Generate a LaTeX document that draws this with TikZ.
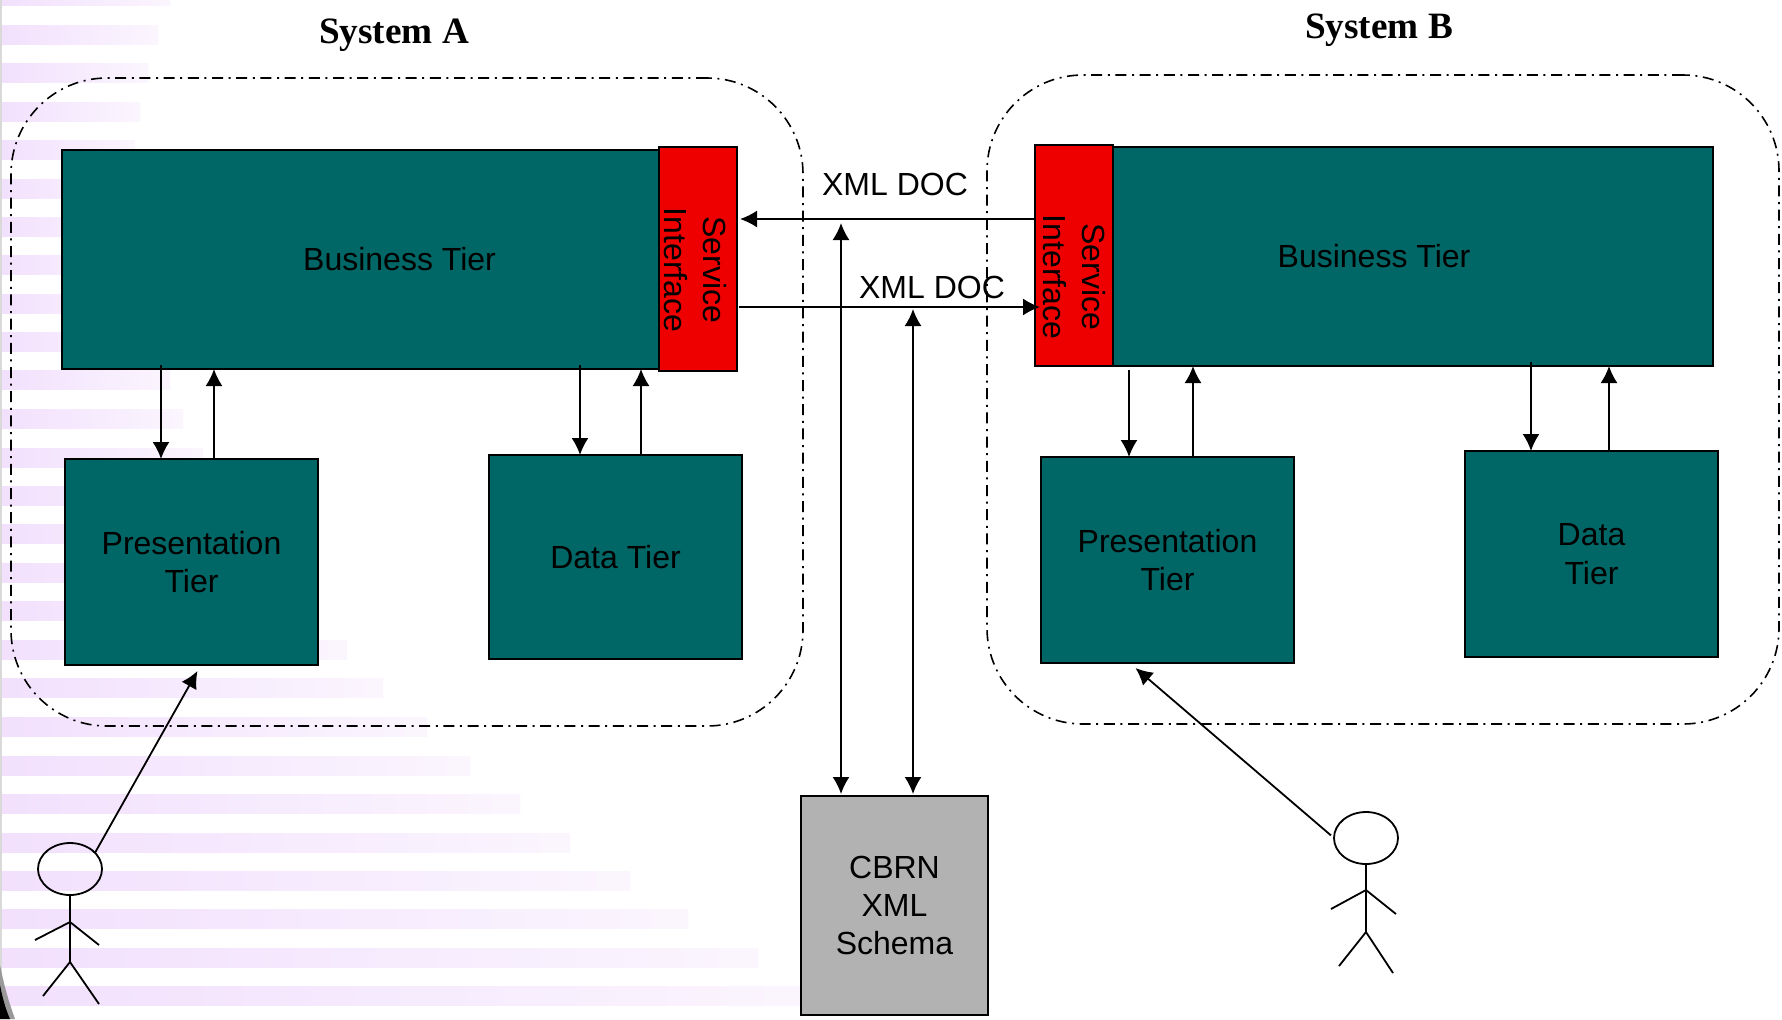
\documentclass[tikz,border=0pt]{standalone}
\usepackage{fontspec}
\setmainfont{Liberation Sans}
\newfontfamily\titlefont{Liberation Serif}
\usetikzlibrary{arrows.meta,shapes.geometric}
\definecolor{tierteal}{HTML}{006666}
\definecolor{sired}{HTML}{EE0000}
\definecolor{schemagray}{HTML}{B2B2B2}
\definecolor{stripepink}{HTML}{F2E0FD}
\tikzset{
  stripe/.style = {left color=stripepink, right color=stripepink!30},
  system/.style = {draw, line width=.8pt, rounded corners=48pt, inner sep=0,
    dash pattern=on 5.5pt off 2.8pt on 1pt off 2.8pt},
  tier/.style = {draw, line width=1pt, fill=tierteal, inner sep=0, outer sep=0,
    align=center, font=\fontsize{16}{19.2}\selectfont},
  sibox/.style = {draw, line width=1pt, fill=sired, inner sep=0, outer sep=0},
  silabel/.style = {rotate=-90, inner sep=0, align=center, font=\fontsize{16}{19.5}\selectfont},
  schema/.style = {tier, fill=schemagray},
  doclabel/.style = {inner sep=0, font=\fontsize{16}{19}\selectfont},
  syslabel/.style = {inner sep=0, font=\titlefont\bfseries\fontsize{18.6}{22}\selectfont},
  head/.style = {draw, ellipse, line width=.9pt, minimum width=32pt, minimum height=26pt, inner sep=0, outer sep=0},
  stick/.style = {line width=.9pt},
  link/.style = {line width=.9pt, -{Latex[length=8.5pt,width=8.5pt]}},
  twolink/.style = {line width=.9pt, {Latex[length=8.5pt,width=8.5pt]}-{Latex[length=8.5pt,width=8.5pt]}}
}
\begin{document}
\begin{tikzpicture}[x=.5pt,y=-.5pt]
    \useasboundingbox (0,0) rectangle (1782,1019);
    \fill[white] (0,0) rectangle (1782,1019);
    \begin{scope}
      \shade[stripe] (0,0) rectangle (170,5);
      \shade[stripe] (0,25) rectangle (158,44);
      \shade[stripe] (0,63) rectangle (148,82);
      \shade[stripe] (0,102) rectangle (140,121);
      \shade[stripe] (0,140) rectangle (135,159);
      \shade[stripe] (0,179) rectangle (130,198);
      \shade[stripe] (0,217) rectangle (128,236);
      \shade[stripe] (0,255) rectangle (130,274);
      \shade[stripe] (0,294) rectangle (135,313);
      \shade[stripe] (0,332) rectangle (150,351);
      \shade[stripe] (0,370) rectangle (170,389);
      \shade[stripe] (0,409) rectangle (183,428);
      \shade[stripe] (0,448) rectangle (203,467);
      \shade[stripe] (0,486) rectangle (225,505);
      \shade[stripe] (0,524) rectangle (250,543);
      \shade[stripe] (0,563) rectangle (275,582);
      \shade[stripe] (0,601) rectangle (310,620);
      \shade[stripe] (0,640) rectangle (347,659);
      \shade[stripe] (0,678) rectangle (383,697);
      \shade[stripe] (0,717) rectangle (427,736);
      \shade[stripe] (0,756) rectangle (470,775);
      \shade[stripe] (0,794) rectangle (520,813);
      \shade[stripe] (0,833) rectangle (570,852);
      \shade[stripe] (0,871) rectangle (630,890);
      \shade[stripe] (0,909) rectangle (688,928);
      \shade[stripe] (0,948) rectangle (758,967);
      \shade[stripe] (0,986) rectangle (808,1005);
      \fill[black!15] (0,0) rectangle (2,1019);
      \fill[black!40] (0,965) .. controls (5,990) and (10,1005) .. (15,1019) -- (0,1019) -- cycle;
      \fill[black] (0,985) .. controls (3,1000) and (6,1010) .. (10,1019) -- (0,1019) -- cycle;
    \end{scope}

    \node[system, minimum width=396pt, minimum height=324pt] (sysA) at (407,402) {};
    \node[system, minimum width=396pt, minimum height=324.5pt] (sysB) at (1383,399.5) {};
    \node[syslabel] (titleA) at (394,35) {System A};
    \node[syslabel] (titleB) at (1379,30) {System B};

    \node[tier, minimum width=337.5pt, minimum height=109.5pt] (bizA) at (399.5,259.5) {Business Tier};
    \node[sibox, minimum width=39pt, minimum height=112pt] (siA) at (698,259) {};
    \node[silabel] (siAlabel) at (695,270) {Service\\Interface};
    \node[tier, minimum width=126.5pt, minimum height=103pt] (presA) at (191.5,562) {Presentation\\Tier};
    \node[tier, minimum width=126.5pt, minimum height=102pt] (dataA) at (615.5,557) {Data Tier};

    \node[tier, minimum width=339pt, minimum height=109.5pt] (bizB) at (1374,256.5) {Business Tier};
    \node[sibox, minimum width=39pt, minimum height=110.5pt] (siB) at (1074,255.5) {};
    \node[silabel] (siBlabel) at (1074,277) {Service\\Interface};
    \node[tier, minimum width=126.5pt, minimum height=103pt] (presB) at (1167.5,560) {Presentation\\Tier};
    \node[tier, minimum width=126.5pt, minimum height=103pt] (dataB) at (1591.5,554) {Data\\Tier};

    \node[schema, minimum width=93.5pt, minimum height=109.5pt] (cbrn) at (894.5,905.5) {CBRN\\XML\\Schema};

    \draw[link, shorten >=1.5pt] ([yshift=18.25pt]siB.west) -- ([yshift=18.25pt]siB.west -| siA.east);
    \draw[link, shorten <=1pt, shorten >=-2.5pt] ([yshift=-24pt]siA.east) -- ([yshift=-24pt]siA.east -| siB.west);
    \node[doclabel] (docTop) at (895,184) {XML DOC};
    \node[doclabel] (docBottom) at (932,287) {XML DOC};

    \coordinate (schemaTop) at (841,223);
    \coordinate (schemaBottom) at (913,309);
    \draw[twolink, shorten <=1pt] ([xshift=20pt]cbrn.north west) -- (schemaTop);
    \draw[twolink, shorten <=1pt] ([xshift=56pt]cbrn.north west) -- (schemaBottom);

    \draw[link] ([xshift=49.5pt,yshift=2pt]bizA.south west) -- ([xshift=49.5pt]bizA.south west |- presA.north);
    \draw[link] ([xshift=74.5pt]presA.north west) -- ([xshift=74.5pt]presA.north west |- bizA.south);
    \draw[link] ([xshift=259pt,yshift=2pt]bizA.south west) -- ([xshift=259pt]bizA.south west |- dataA.north);
    \draw[link] ([xshift=76pt]dataA.north west) -- ([xshift=76pt]dataA.north west |- bizA.south);

    \draw[link] ([xshift=47pt,yshift=-2pt]bizB.south west) -- ([xshift=47pt]bizB.south west |- presB.north);
    \draw[link] ([xshift=76pt]presB.north west) -- ([xshift=76pt]presB.north west |- bizB.south);
    \draw[link] ([xshift=248pt,yshift=2pt]bizB.south west) -- ([xshift=248pt]bizB.south west |- dataB.north);
    \draw[link] ([xshift=72pt]dataB.north west) -- ([xshift=72pt]dataB.north west |- bizB.south);

    \node[head] (headA) at (70,869) {};
    \coordinate (shoulderA) at (70,922);
    \coordinate (hipA) at (70,962);
    \coordinate (handA1) at (35,940);
    \coordinate (handA2) at (99,945);
    \coordinate (footA1) at (43,996);
    \coordinate (footA2) at (99,1004);
    \draw[stick] (headA.south) -- (hipA);
    \draw[stick] (handA1) -- (shoulderA) -- (handA2);
    \draw[stick] (footA1) -- (hipA) -- (footA2);
    \draw[link] (headA.33) -- ([xshift=3pt,yshift=-3pt]presA.south);

    \node[head] (headB) at (1366,838) {};
    \coordinate (shoulderB) at (1366,890);
    \coordinate (hipB) at (1366,932);
    \coordinate (handB1) at (1331,909);
    \coordinate (handB2) at (1396,914);
    \coordinate (footB1) at (1339,966);
    \coordinate (footB2) at (1393,973);
    \draw[stick] (headB.south) -- (hipB);
    \draw[stick] (handB1) -- (shoulderB) -- (handB2);
    \draw[stick] (footB1) -- (hipB) -- (footB2);
    \draw[link, shorten <=2pt] (headB.west) -- ([xshift=-16pt,yshift=-2.5pt]presB.south);
  \end{tikzpicture}
\end{document}
